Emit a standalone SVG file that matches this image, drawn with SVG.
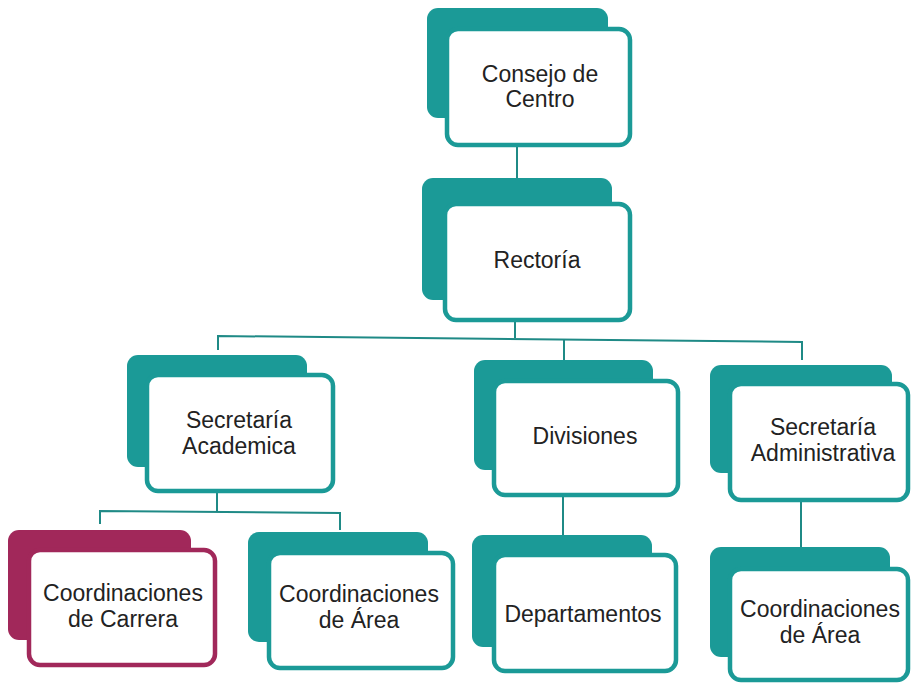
<svg xmlns="http://www.w3.org/2000/svg" width="912" height="683" viewBox="0 0 912 683">
<style>
.back{fill:#1b9a97}
.front{fill:#ffffff;stroke:#1b9a97;stroke-width:4.5}
.mback{fill:#a1285a}
.mfront{fill:#ffffff;stroke:#a1285a;stroke-width:4.5}
.lbl{font-family:"Liberation Sans",Arial,Helvetica,sans-serif;font-size:23px;fill:#222222;text-anchor:middle}
.conn{fill:none;stroke:#1f8a86;stroke-width:2}
</style>
<rect width="912" height="683" fill="#ffffff"/>
<g id="connectors">
<path class="conn" d="M517,147 V180"/>
<path class="conn" d="M515,322 V338"/>
<path class="conn" d="M218,350 V336 L802,342 V360"/>
<path class="conn" d="M564,339 V362"/>
<path class="conn" d="M217,493 V512"/>
<path class="conn" d="M100,524 V511 L340,513 V530"/>
<path class="conn" d="M563,497 V537"/>
<path class="conn" d="M801,502 V549"/>
</g>
<g id="consejo">
<rect class="back" x="427" y="8" width="181" height="110" rx="11"/>
<rect class="front" x="447" y="29" width="183" height="116" rx="11"/>
<text class="lbl" x="540" y="82">Consejo de</text>
<text class="lbl" x="540" y="107">Centro</text>
</g>
<g id="rectoria">
<rect class="back" x="422" y="178" width="190" height="122" rx="11"/>
<rect class="front" x="445" y="204" width="185" height="116" rx="11"/>
<text class="lbl" x="537" y="268">Rectoría</text>
</g>
<g id="secretaria-academica">
<rect class="back" x="127" y="355" width="180" height="112" rx="11"/>
<rect class="front" x="147" y="375" width="186" height="116" rx="11"/>
<text class="lbl" x="239" y="428">Secretaría</text>
<text class="lbl" x="239" y="454">Academica</text>
</g>
<g id="divisiones">
<rect class="back" x="474" y="360" width="179" height="110" rx="11"/>
<rect class="front" x="494" y="381" width="184" height="114" rx="11"/>
<text class="lbl" x="585" y="444">Divisiones</text>
</g>
<g id="secretaria-administrativa">
<rect class="back" x="710" y="365" width="182" height="108" rx="11"/>
<rect class="front" x="730" y="384" width="178" height="116" rx="11"/>
<text class="lbl" x="823" y="435">Secretaría</text>
<text class="lbl" x="823" y="461">Administrativa</text>
</g>
<g id="coord-carrera">
<rect class="mback" x="8" y="530" width="183" height="110" rx="11"/>
<rect class="mfront" x="29" y="550" width="186" height="115" rx="11"/>
<text class="lbl" x="123" y="601">Coordinaciones</text>
<text class="lbl" x="123" y="627">de Carrera</text>
</g>
<g id="coord-area-1">
<rect class="back" x="248" y="532" width="180" height="110" rx="11"/>
<rect class="front" x="269" y="553" width="184" height="115" rx="11"/>
<text class="lbl" x="359" y="602">Coordinaciones</text>
<text class="lbl" x="359" y="628">de Área</text>
</g>
<g id="departamentos">
<rect class="back" x="472" y="535" width="180" height="112" rx="11"/>
<rect class="front" x="494" y="555" width="182" height="116" rx="11"/>
<text class="lbl" x="583" y="622">Departamentos</text>
</g>
<g id="coord-area-2">
<rect class="back" x="710" y="547" width="180" height="110" rx="11"/>
<rect class="front" x="730" y="569" width="178" height="111" rx="11"/>
<text class="lbl" x="820" y="617">Coordinaciones</text>
<text class="lbl" x="820" y="643">de Área</text>
</g>
</svg>
